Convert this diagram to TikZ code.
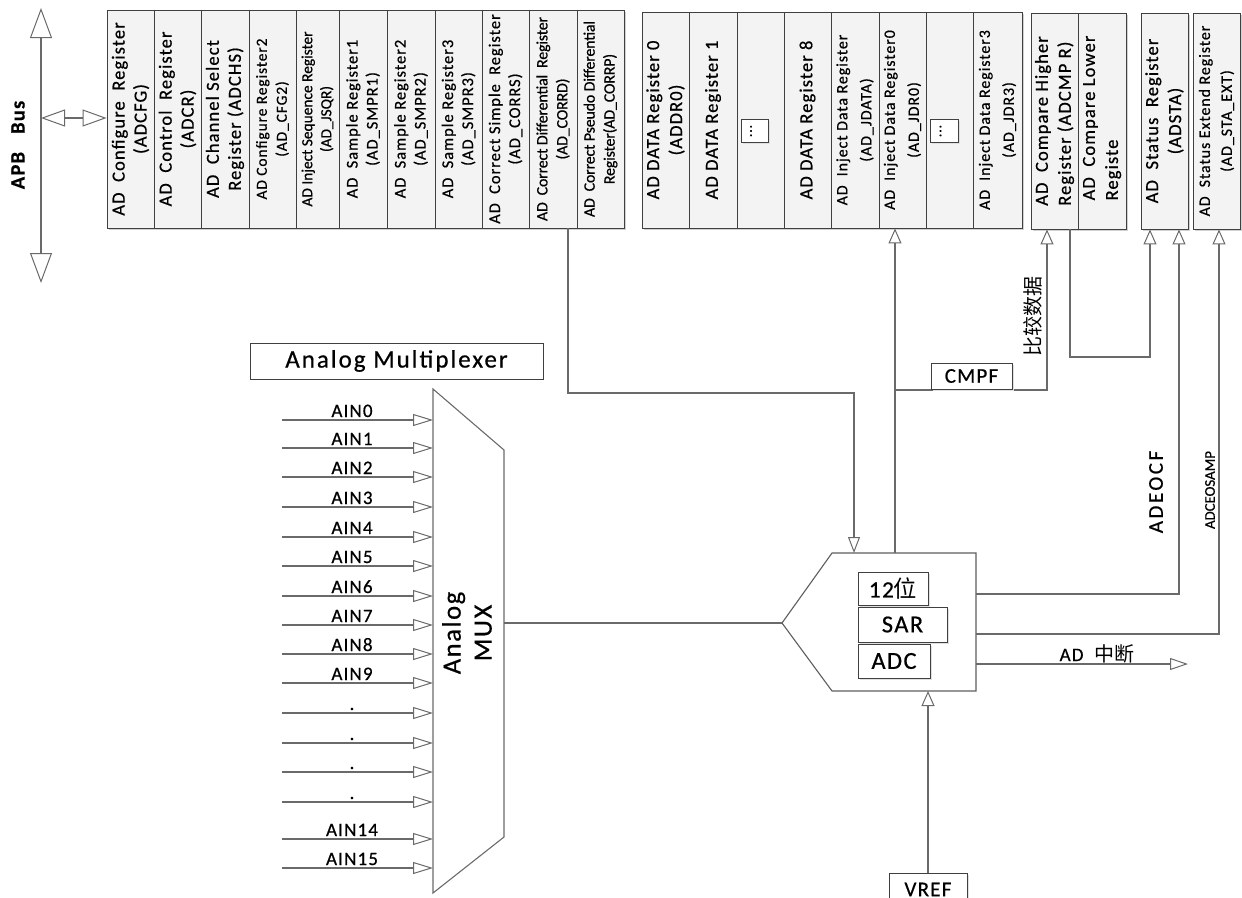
\documentclass[tikz,border=0pt]{standalone}
\usepackage{fontspec}
\setmainfont{Carlito}[LetterSpace=6,FakeBold=0.6]
\newfontfamily\cjk{Noto Sans CJK SC}
\usetikzlibrary{arrows.meta,shadows,calc}
\definecolor{boxc}{HTML}{404040}
\definecolor{boxf}{HTML}{F3F3F3}
\definecolor{linec}{HTML}{6A6A6A}
\newcommand\fs[2]{\fontsize{#1}{#2}\selectfont}
\begin{document}
\begin{tikzpicture}[x=1pt,y=-1pt,
  regbox/.style={draw=boxc, fill=boxf, line width=0.9pt, inner sep=0pt,
    drop shadow={shadow xshift=2pt, shadow yshift=-2pt, fill=black!18, opacity=1}},
  rt/.style={rotate=90, align=center, inner sep=0pt, text=black},
  plainbox/.style={draw=boxc, fill=white, line width=0.9pt, inner sep=0pt,
    drop shadow={shadow xshift=1.5pt, shadow yshift=-1.5pt, fill=black!12, opacity=1}},
  conn/.style={draw=linec, line width=1.1pt},
  tipU/.style={-{Triangle[length=15pt,width=13pt,fill=white,line width=1pt]}},
  tipA/.style={-{Triangle[length=20pt,width=12pt,fill=white,line width=1pt]}},
  tipR/.style={-{Triangle[length=18pt,width=12pt,fill=white,line width=1pt]}},
  tipD/.style={-{Triangle[length=16pt,width=12pt,fill=white,line width=1pt]}},
  ainlbl/.style={anchor=base, inner sep=0pt, font=\fs{19}{20}},
]
\useasboundingbox (0,0) rectangle (1242,897);

% ---------------- APB bus ----------------
\coordinate (busT) at (41,8);
\coordinate (busB) at (41,283);
\coordinate (busM) at (41,118);
\draw[conn, {Triangle[length=30pt,width=22pt,fill=white,line width=1pt]}-{Triangle[length=30pt,width=22pt,fill=white,line width=1pt]}] (busT) -- (busB);
\node[rotate=90, inner sep=0pt, font=\bfseries\fs{20.5}{22}] (apb) at (18,145) {APB\hspace{18pt}Bus};

% ---------------- register group 1 ----------------
\node[regbox, minimum width=47, minimum height=218] (c1) at (130.5,119) {};
\node[regbox, minimum width=47, minimum height=218] (c2) at (177.5,119) {};
\node[regbox, minimum width=48, minimum height=218] (c3) at (225,119) {};
\node[regbox, minimum width=47, minimum height=218] (c4) at (272.5,119) {};
\node[regbox, minimum width=43, minimum height=218] (c5) at (317.5,119) {};
\node[regbox, minimum width=48, minimum height=218] (c6) at (363,119) {};
\node[regbox, minimum width=48, minimum height=218] (c7) at (411,119) {};
\node[regbox, minimum width=47, minimum height=218] (c8) at (458.5,119) {};
\node[regbox, minimum width=47, minimum height=218] (c9) at (505.5,119) {};
\node[regbox, minimum width=48, minimum height=218] (c10) at (553,119) {};
\node[regbox, minimum width=47, minimum height=218] (c11) at (600.5,119) {};

\node[rt, font=\fs{18.5}{22}] (c1t) at (c1) {AD\ \ Configure\ \ Register\\(ADCFG)};
\node[rt, font=\fs{18.5}{22}] (c2t) at (c2) {AD\ \ Control\ \ Register\\(ADCR)};
\node[rt, font=\fs{18.5}{22}] (c3t) at (c3) {AD\ \ Channel\ Select\\Register (ADCHS)};
\node[rt, font=\fs{15.4}{20}] (c4t) at (c4) {AD Configure Register2\\(AD\_CFG2)};
\node[rt, font=\fs{15.4}{19}\addfontfeature{LetterSpace=0}] (c5t) at (c5) {AD Inject Sequence Register\\(AD\_JSQR)};
\node[rt, font=\fs{16.4}{20}] (c6t) at (c6) {AD\ \ Sample Register1\\(AD\_SMPR1)};
\node[rt, font=\fs{16.4}{20}] (c7t) at (c7) {AD\ \ Sample Register2\\(AD\_SMPR2)};
\node[rt, font=\fs{16.4}{20}] (c8t) at (c8) {AD\ \ Sample Register3\\(AD\_SMPR3)};
\node[rt, font=\fs{16.4}{20}] (c9t) at (c9) {AD\ \ Correct Simple\ \ Register\\(AD\_CORRS)};
\node[rt, font=\fs{15.9}{20}\addfontfeature{LetterSpace=-1}] (c10t) at (c10) {AD\ \ Correct Differential\ \ Register\\(AD\_CORRD)};
\node[rt, font=\fs{15.9}{20}\addfontfeature{LetterSpace=-1}] (c11t) at (c11) {AD\ \ Correct Pseudo Differential\\Register(AD\_CORRP)};

\draw[conn, line width=1.6pt, {Triangle[length=24pt,width=17pt,fill=white,line width=1pt]}-{Triangle[length=24pt,width=17pt,fill=white,line width=1pt]}] (busM) -- (c1.west |- busM);

% ---------------- register group 2 ----------------
\node[regbox, minimum width=47, minimum height=216] (d0) at (665.5,120) {};
\node[regbox, minimum width=48, minimum height=216] (d1) at (713,120) {};
\node[regbox, minimum width=47, minimum height=216] (dx1) at (760.5,120) {};
\node[regbox, minimum width=47, minimum height=216] (d8) at (807.5,120) {};
\node[regbox, minimum width=48, minimum height=216] (jdata) at (855,120) {};
\node[regbox, minimum width=47, minimum height=216] (jdr0) at (902.5,120) {};
\node[regbox, minimum width=47, minimum height=216] (dx2) at (949.5,120) {};
\node[regbox, minimum width=49, minimum height=216] (jdr3) at (997.5,120) {};

\node[rt, font=\fs{18.5}{23}] (d0t) at (d0) {AD DATA Register 0\\(ADDR0)};
\node[rt, font=\fs{18.5}{23}] (d1t) at (d1) {AD DATA Register 1};
\node[plainbox, minimum width=27, minimum height=23] (dots1) at (754.5,130.5) {};
\node[rt, font=\fs{14}{14}] (dots1t) at (751,131) {...};
\node[rt, font=\fs{18.5}{23}] (d8t) at (d8) {AD DATA Register 8};
\node[rt, font=\fs{15.9}{24}] (jdatat) at (jdata) {AD\ \ Inject Data Register\\(AD\_JDATA)};
\node[rt, font=\fs{15.9}{24}] (jdr0t) at (jdr0) {AD\ \ Inject Data Register0\\(AD\_JDR0)};
\node[plainbox, minimum width=28, minimum height=23] (dots2) at (944,130.5) {};
\node[rt, font=\fs{14}{14}] (dots2t) at (940.5,131) {...};
\node[rt, font=\fs{15.9}{24}] (jdr3t) at (jdr3) {AD\ \ Inject Data Register3\\(AD\_JDR3)};

% ---------------- register group 3 / 4 ----------------
\node[regbox, minimum width=47, minimum height=216] (cmph) at (1054.5,121) {};
\node[regbox, minimum width=48, minimum height=216] (cmpl) at (1102,121) {};
\node[regbox, minimum width=47, minimum height=216] (sta) at (1164.5,121) {};
\node[regbox, minimum width=47, minimum height=216] (staext) at (1216.5,121) {};

\node[rt, align=left, font=\fs{18.5}{23}] (cmpht) at (cmph) {AD\ \ Compare Higher\\Register (ADCMP R)};
\node[rt, align=left, font=\fs{18.5}{23}] (cmplt) at ($(cmpl)+(0,-3)$) {AD\ \ Compare Lower\\Registe\phantom{r (ADCMP R)}};
\node[rt, font=\fs{18.5}{23}] (stat) at (sta) {AD\ \ Status\ \ Register\\(ADSTA)};
\node[rt, font=\fs{15.9}{22}] (staextt) at (staext) {AD\ \ Status Extend Register\\(AD\_STA\_EXT)};

% ---------------- analog multiplexer ----------------
\node[draw=boxc, line width=0.9pt, minimum width=293, minimum height=36, inner sep=0pt,
  font=\fs{25}{26}\addfontfeature{LetterSpace=8}] (amux) at (396.5,361) {Analog Multiplexer};

\coordinate (muxTL) at (433,389);
\coordinate (muxTR) at (504,450);
\coordinate (muxBR) at (504,837);
\coordinate (muxBL) at (433,893);
\draw[draw=linec, line width=1.1pt] (muxTL) -- (muxTR) -- (muxBR) -- (muxBL) -- cycle;
\node[rt, font=\fs{26.5}{31}] (muxlbl) at (467,633) {Analog\\MUX};

\foreach \yy/\tt [count=\i] in {420/AIN0,448/AIN1,477/AIN2,507/AIN3,537/AIN4,566/AIN5,596/AIN6,625/AIN7,654/AIN8,683/AIN9,713/.,743/.,772/.,802/.,839/AIN14,868/AIN15}{
  \coordinate (ainS\i) at (282,\yy);
  \draw[conn, tipA] (ainS\i) -- (ainS\i -| muxTL);
  \node[ainlbl] (ain\i) at (352,\yy-3) {\tt};
}

% ---------------- SAR ADC ----------------
\coordinate (sarL) at (782,623);
\coordinate (sarTL) at (832,553);
\coordinate (sarTR) at (976,553);
\coordinate (sarBR) at (976,691);
\coordinate (sarBL) at (832,691);
\draw[draw=boxc!85, line width=1.1pt] (sarL) -- (sarTL) -- (sarTR) -- (sarBR) -- (sarBL) -- cycle;

\node[plainbox, minimum width=70, minimum height=33, font=\fs{23.3}{24}] (b12) at (893,588.5) {12{\cjk 位}};
\node[plainbox, minimum width=89, minimum height=35, font=\fs{24.4}{25}] (bsar) at (902.5,624.5) {SAR};
\node[plainbox, minimum width=72, minimum height=34, font=\fs{24.4}{25}] (badc) at (894,661) {ADC};

\draw[conn] (muxBR |- sarL) -- (sarL);

% from AD_CORRD to SAR
\coordinate (m1) at (568,393);
\coordinate (m2) at (854,393);
\draw[conn, tipD] (m1 |- c10.south) -- (m1) -- (m2) -- (m2 |- sarTL);

% SAR to inject data register 0
\coordinate (o1) at (895,553);
\draw[conn, tipU] (o1) -- (o1 |- jdr0.south);

% CMPF / compare data
\coordinate (j1) at (895,390);
\coordinate (j2) at (1047,390);
\draw[conn, tipU] (j1) -- (j2) -- (j2 |- cmph.south);
\node[plainbox, minimum width=81, minimum height=26, font=\fs{21}{22}] (cmpf) at (971.5,376) {CMPF};
\node[rt, font=\cjk\fs{20}{22}] (cmpdata) at (1033,316) {比较数据};

% compare -> status
\coordinate (k1) at (1070,357);
\coordinate (k2) at (1150,357);
\draw[conn, tipU] (k1 |- cmph.south) -- (k1) -- (k2) -- (k2 |- sta.south);

% ADEOCF
\coordinate (e1) at (976,594);
\coordinate (e2) at (1179,594);
\draw[conn, tipU] (e1) -- (e2) -- (e2 |- sta.south);
\node[rt, font=\fs{21}{22}\addfontfeature{LetterSpace=12}] (adeocf) at (1156,492) {ADEOCF};

% ADCEOSAMP
\coordinate (s1) at (976,634);
\coordinate (s2) at (1219,634);
\draw[conn, tipU] (s1) -- (s2) -- (s2 |- staext.south);
\node[rt, font=\fs{14.8}{15}\addfontfeature{LetterSpace=0}] (adceosamp) at (1210,490) {ADCEOSAMP};

% AD interrupt
\coordinate (i1) at (976,664);
\coordinate (i2) at (1188,664);
\draw[conn, tipR] (i1) -- (i2);
\node[anchor=base, inner sep=0pt, font=\fs{19}{20}] (adint) at (1097,661) {AD\ \ {\cjk\fs{20}{20}中断}};

% VREF
\node[plainbox, minimum width=78, minimum height=32, font=\fs{21}{22}, anchor=north] (vref) at (928,873) {VREF};
\draw[conn, tipU] (vref.north) -- (vref.north |- sarBL);

\end{tikzpicture}
\end{document}
